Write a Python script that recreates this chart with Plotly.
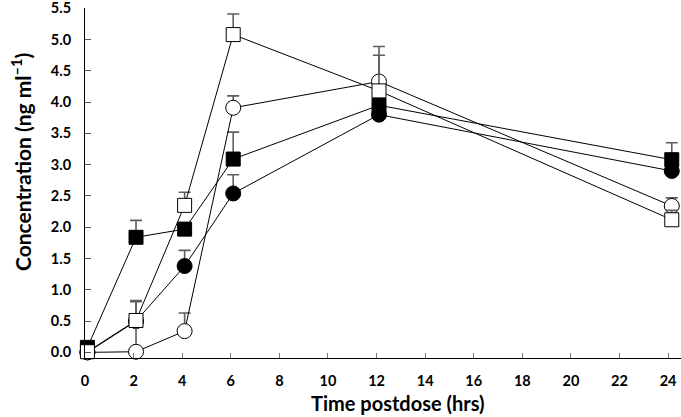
import plotly.graph_objects as go

# Sampling times (hrs)
times = [0.1, 2.1, 4.1, 6.1, 12.1, 24.15]

# Mean concentrations (ng/ml)
open_square = [0.01, 0.51, 2.35, 5.08, 4.18, 2.12]
open_circle = [0.0, 0.01, 0.34, 3.91, 4.33, 2.34]
filled_square = [0.08, 1.84, 1.97, 3.09, 3.95, 3.08]
filled_circle = [0.0, 0.50, 1.38, 2.54, 3.80, 2.90]

# Upper error (SD/SEM) values
open_square_err = [0.0, 0.32, 0.21, 0.33, 0.57, 0.15]
open_circle_err = [0.0, 0.80, 0.29, 0.19, 0.56, 0.13]
filled_square_err = [0.0, 0.27, 0.10, 0.43, 0.10, 0.27]
filled_circle_err = [0.0, 0.10, 0.25, 0.30, 0.10, 0.10]

x_ticks = list(range(0, 25, 2))
y_ticks = [i * 0.5 for i in range(12)]

FONT = "Lato"
ERR_COLOR = "#5e5e5e"

fig = go.Figure()

def add_series(y, err, symbol, fill):
    fig.add_trace(go.Scatter(
        x=times, y=y, mode="lines+markers",
        line=dict(color="black", width=1),
        marker=dict(symbol=symbol, size=15 if "circle" in symbol else 14,
                    color=fill, line=dict(color="black", width=1)),
        error_y=dict(type="data", array=err, arrayminus=[0] * len(err),
                     symmetric=False, color=ERR_COLOR, thickness=1.6, width=6),
        cliponaxis=False,
        showlegend=False,
    ))

add_series(filled_circle, filled_circle_err, "circle", "black")
add_series(filled_square, filled_square_err, "square", "black")
add_series(open_circle, open_circle_err, "circle", "white")
add_series(open_square, open_square_err, "square", "white")

fig.update_layout(
    width=681, height=417,
    margin=dict(l=85, r=0, t=8, b=59),
    paper_bgcolor="white", plot_bgcolor="white",
    font=dict(family=FONT, color="black"),
    xaxis=dict(
        range=[0, 24.53], tickvals=x_ticks, ticktext=[str(t) for t in x_ticks],
        ticks="inside", ticklen=5, tickcolor="#777", tickwidth=1,
        showline=True, linecolor="black", linewidth=1,
        showgrid=False, zeroline=False, automargin=False,
        tickfont=dict(family=FONT, size=14.5, color="black", weight="bold"),
        ticklabelstandoff=10, ticklabeloverflow="allow",
    ),
    yaxis=dict(
        range=[-0.09, 5.505], tickvals=y_ticks, ticktext=[f"{v:.1f}" for v in y_ticks],
        ticks="inside", ticklen=6, tickcolor="#555", tickwidth=1,
        showline=True, linecolor="black", linewidth=1,
        showgrid=False, zeroline=False, automargin=False,
        tickfont=dict(family=FONT, size=14.5, color="black", weight="bold"),
        ticklabelstandoff=10, ticklabeloverflow="allow",
    ),
    annotations=[
        dict(text="<b>Time postdose (hrs)</b>", xref="paper", yref="paper",
             x=(398 - 85) / 596, y=-(403 - 358) / 350, xanchor="center", yanchor="middle",
             showarrow=False, font=dict(family=FONT, size=20, color="black")),
        dict(text="<b>Concentration (ng ml<sup>–1</sup>)</b>", xref="paper", yref="paper",
             x=-(85 - 21) / 596, y=(358 - 162) / 350, xanchor="center", yanchor="middle",
             textangle=-90, showarrow=False,
             font=dict(family=FONT, size=21, color="black")),
    ],
)

fig.write_html(
    "out.html",
    config={"displayModeBar": False},
    post_script="document.body.style.margin='0';document.body.style.overflow='hidden';",
)
